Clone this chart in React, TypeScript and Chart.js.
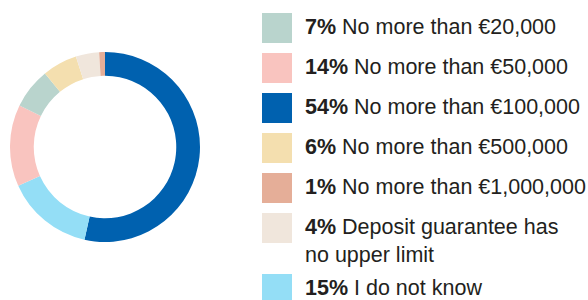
import React, { useEffect, useRef } from "react";
import { Chart, registerables } from "chart.js";

Chart.register(...registerables);

// Legend order
const percents: number[] = [7, 14, 54, 6, 1, 4, 15];
const labels: string[] = [
  "No more than €20,000",
  "No more than €50,000",
  "No more than €100,000",
  "No more than €500,000",
  "No more than €1,000,000",
  "Deposit guarantee has\nno upper limit",
  "I do not know",
];
const colors: string[] = [
  "#B9D4CD",
  "#F9C4BF",
  "#0061AF",
  "#F4DFAF",
  "#E5AE98",
  "#F0E6DC",
  "#94DEF6",
];
// Clockwise order of slices in the donut (indices into the arrays above)
const donutOrder: number[] = [2, 6, 1, 0, 3, 5, 4];

const FONT = '"Liberation Sans", Arial, Helvetica, sans-serif';

export default function App() {
  const canvasRef = useRef<HTMLCanvasElement | null>(null);

  useEffect(() => {
    if (!canvasRef.current) return;
    const chart = new Chart(canvasRef.current, {
      type: "doughnut",
      data: {
        labels: donutOrder.map((i) => labels[i].replace("\n", " ")),
        datasets: [
          {
            data: donutOrder.map((i) => percents[i]),
            backgroundColor: donutOrder.map((i) => colors[i]),
            borderWidth: 0,
          },
        ],
      },
      options: {
        responsive: false,
        animation: false,
        devicePixelRatio: 1,
        cutout: "75%",
        layout: { padding: 0 },
        plugins: {
          legend: { display: false },
          tooltip: { enabled: false },
        },
      },
    });
    return () => chart.destroy();
  }, []);

  return (
    <div
      style={{
        position: "absolute",
        left: 0,
        top: 0,
        width: 588,
        height: 300,
        overflow: "hidden",
        background: "#fff",
        fontFamily: FONT,
      }}
    >
      <canvas
        ref={canvasRef}
        width={190}
        height={190}
        style={{ position: "absolute", left: 10, top: 52, width: 190, height: 190 }}
      />
      <div style={{ position: "absolute", left: 262, top: 12.5 }}>
        {percents.map((p, i) => {
          const lines = labels[i].split("\n").length;
          return (
            <div
              key={i}
              style={{
                display: "flex",
                alignItems: "flex-start",
                height: 30 + (lines - 1) * 21,
                marginBottom: 10,
              }}
            >
              <div
                style={{
                  width: 30,
                  height: 30,
                  background: colors[i],
                  flex: "0 0 auto",
                }}
              />
              <div
                style={{
                  marginLeft: 13,
                  marginTop: 0.5,
                  fontSize: 21.5,
                  lineHeight: "28px",
                  color: "#231F20",
                  whiteSpace: "pre",
                }}
              >
                <span style={{ fontWeight: "bold" }}>{p}%</span> {labels[i]}
              </div>
            </div>
          );
        })}
      </div>
    </div>
  );
}
